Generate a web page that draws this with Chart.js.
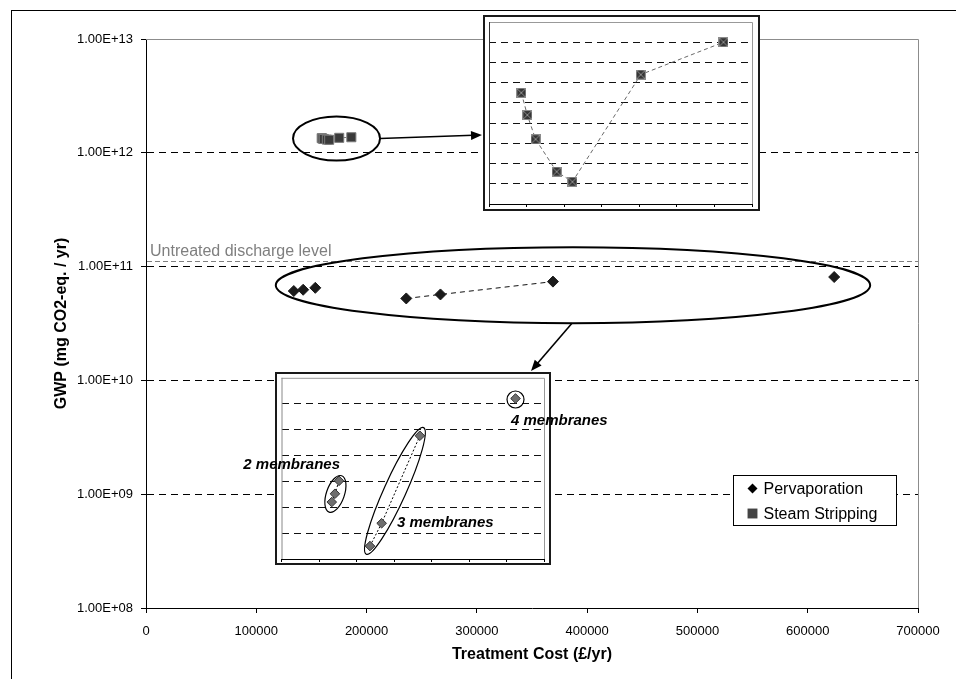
<!DOCTYPE html>
<html>
<head>
<meta charset="utf-8">
<script src="https://cdn.jsdelivr.net/npm/chart.js@4/dist/chart.umd.min.js"></script>
<style>
  body { margin: 0; background: #fff; }
  #wrap { position: relative; width: 956px; height: 679px; overflow: hidden; }
  canvas { position: absolute; }
  .lbl { position: absolute; font: italic bold 15px "Liberation Sans", Arial, sans-serif; color: #000; white-space: nowrap; line-height: 18px; }
</style>
</head>
<body>
<div id="wrap">
  <canvas id="main" width="956" height="679" style="left:0;top:0"></canvas>
  <canvas id="steamInset"></canvas>
  <canvas id="pervInset"></canvas>
</div>
<script>
// ---- data ----
const xTicks = [0, 100000, 200000, 300000, 400000, 500000, 600000, 700000];
const yTicks = [1e8, 1e9, 1e10, 1e11, 1e12, 1e13];

const membraneGroups = ['2 membranes', '3 membranes', '4 membranes'];
const perv2Cost = [134000, 142500, 153500];
const perv2Gwp = [6.10e10, 6.26e10, 6.51e10];
const perv3Cost = [236000, 267000, 369000];
const perv3Gwp = [5.25e10, 5.69e10, 7.38e10];
const perv4Cost = [624000];
const perv4Gwp = [8.10e10];

const steamCost = [159300, 160100, 161200, 164000, 166100, 175200, 186200];
const steamGwp = [1.345e12, 1.334e12, 1.322e12, 1.306e12, 1.301e12, 1.354e12, 1.370e12];

const untreatedGwp = 1.13e11;

// inset axis ranges (min, max, step)
const steamInsetCost = [155000, 190000, 5000];
const steamInsetGwp = [1.29e12, 1.38e12, 1e10];
const pervInsetCost = [0, 700000, 100000];
const pervInsetGwp = [5.0e10, 8.5e10, 5e9];

// ---- helpers ----
const FONT = '"Liberation Sans", Arial, sans-serif';
Chart.defaults.font.family = FONT;
Chart.defaults.color = '#000';

const pts = (xs, ys) => xs.map((x, i) => ({x: x, y: ys[i]}));

function fmtExp(v) {
  const parts = v.toExponential(2).split('e');
  const e = parseInt(parts[1], 10);
  return parts[0] + 'E' + (e < 0 ? '-' : '+') + String(Math.abs(e)).padStart(2, '0');
}

function xSquare(size) {
  const c = document.createElement('canvas');
  c.width = c.height = size;
  const g = c.getContext('2d');
  g.fillStyle = '#353535';
  g.fillRect(0, 0, size, size);
  g.strokeStyle = '#8c8c8c';
  g.lineWidth = 1;
  g.strokeRect(0.5, 0.5, size - 1, size - 1);
  g.beginPath();
  g.moveTo(1, 1); g.lineTo(size - 1, size - 1);
  g.moveTo(size - 1, 1); g.lineTo(1, size - 1);
  g.stroke();
  return c;
}

function arrow(ctx, x1, y1, x2, y2) {
  const a = Math.atan2(y2 - y1, x2 - x1), len = 11, w = 4.5;
  ctx.beginPath();
  ctx.moveTo(x1, y1);
  ctx.lineTo(x2 - len * 0.8 * Math.cos(a), y2 - len * 0.8 * Math.sin(a));
  ctx.stroke();
  ctx.beginPath();
  ctx.moveTo(x2, y2);
  ctx.lineTo(x2 - len * Math.cos(a) + w * Math.sin(a), y2 - len * Math.sin(a) - w * Math.cos(a));
  ctx.lineTo(x2 - len * Math.cos(a) - w * Math.sin(a), y2 - len * Math.sin(a) + w * Math.cos(a));
  ctx.closePath();
  ctx.fill();
}

// inset boxes on the page
const steamBox = {left: 483, top: 15, width: 277, height: 196, plot: {left: 5, top: 7, right: 269, bottom: 189}};
const pervBox = {left: 275, top: 372, width: 276, height: 193, plot: {left: 6.5, top: 5, right: 269, bottom: 187}};

// ---- main chart ----
const mainDecor = {
  id: 'mainDecor',
  beforeDraw(chart) {
    const ctx = chart.ctx;
    ctx.save();
    ctx.fillStyle = '#fff';
    ctx.fillRect(0, 0, chart.width, chart.height);
    ctx.restore();
  },
  beforeDatasetsDraw(chart) {
    const {ctx, chartArea: a} = chart;
    const y = chart.scales.y;
    ctx.save();
    ctx.strokeStyle = '#8c8c8c';
    ctx.lineWidth = 1;
    ctx.beginPath();
    ctx.moveTo(a.left, a.top + 0.5);
    ctx.lineTo(a.right + 0.5, a.top + 0.5);
    ctx.lineTo(a.right + 0.5, a.bottom);
    ctx.stroke();

    const uy = Math.round(y.getPixelForValue(untreatedGwp)) + 0.5;
    ctx.strokeStyle = '#7f7f7f';
    ctx.setLineDash([5, 3]);
    ctx.beginPath();
    ctx.moveTo(a.left + 1, uy);
    ctx.lineTo(a.right, uy);
    ctx.stroke();
    ctx.setLineDash([]);
    ctx.fillStyle = '#7f7f7f';
    ctx.font = '16px ' + FONT;
    ctx.textBaseline = 'alphabetic';
    ctx.fillText('Untreated discharge level', a.left + 4, uy - 6);
    ctx.restore();
  },
  afterDatasetsDraw(chart) {
    const ctx = chart.ctx;
    const {x, y} = chart.scales;
    ctx.save();
    ctx.strokeStyle = '#000';
    ctx.fillStyle = '#000';
    ctx.lineWidth = 2;

    // ellipse round the steam stripping points
    const sx = steamCost.map(v => x.getPixelForValue(v));
    const sy = steamGwp.map(v => y.getPixelForValue(v));
    const scx = (Math.min(...sx) + Math.max(...sx)) / 2;
    const scy = (Math.min(...sy) + Math.max(...sy)) / 2;
    const srx = 43.5, sry = 22;
    ctx.beginPath();
    ctx.ellipse(scx, scy, srx, sry, 0, 0, Math.PI * 2);
    ctx.stroke();

    // ellipse round all pervaporation points
    const allCost = perv2Cost.concat(perv3Cost, perv4Cost);
    const allGwp = perv2Gwp.concat(perv3Gwp, perv4Gwp);
    const px = allCost.map(v => x.getPixelForValue(v));
    const py = allGwp.map(v => y.getPixelForValue(v));
    const pcx = (Math.min(...px) + Math.max(...px)) / 2 + 9;
    const pcy = (Math.min(...py) + Math.max(...py)) / 2 - 2.5;
    const prx = (Math.max(...px) - Math.min(...px)) / 2 + 27, pry = 38;
    ctx.beginPath();
    ctx.ellipse(pcx, pcy, prx, pry, 0, 0, Math.PI * 2);
    ctx.stroke();

    // arrows to the insets
    ctx.lineWidth = 1.6;
    arrow(ctx, scx + srx, scy, steamBox.left - 1, scy - 3.5);
    arrow(ctx, pcx - 1, pcy + pry, pervBox.left + 256, pervBox.top - 1);

    // legend
    const lg = {left: 733.5, top: 475.5, width: 163, height: 50};
    ctx.lineWidth = 1;
    ctx.fillStyle = '#fff';
    ctx.fillRect(lg.left, lg.top, lg.width, lg.height);
    ctx.strokeRect(lg.left, lg.top, lg.width, lg.height);
    ctx.font = '16px ' + FONT;
    ctx.textBaseline = 'middle';
    const entries = chart.data.datasets.filter(d => d.inLegend);
    entries.forEach((d, i) => {
      const ry = lg.top + 13 + i * 25;
      ctx.fillStyle = d.legendColor;
      ctx.strokeStyle = d.legendColor;
      Chart.helpers.drawPoint(ctx, {pointStyle: d.pointStyle, rotation: 0, radius: d.legendRadius, borderWidth: 0}, lg.left + 19, ry);
      ctx.fillStyle = '#000';
      ctx.fillText(d.label, lg.left + 30, ry + 1);
    });

    // outer frame
    ctx.strokeStyle = '#000';
    ctx.lineWidth = 1;
    ctx.strokeRect(11.5, 10.5, 2000, 2000);
    ctx.restore();
  }
};

new Chart(document.getElementById('main'), {
  type: 'scatter',
  data: {
    datasets: [
      {label: 'Pervaporation', data: pts(perv2Cost, perv2Gwp), showLine: true, borderColor: '#111', borderWidth: 1, borderDash: [5, 4],
       pointStyle: 'rectRot', pointRadius: 5.5, pointBackgroundColor: '#1a1a1a', pointBorderColor: '#1a1a1a', pointBorderWidth: 1,
       inLegend: true, legendColor: '#000', legendRadius: 5},
      {label: 'Pervaporation', data: pts(perv3Cost, perv3Gwp), showLine: true, borderColor: '#111', borderWidth: 1, borderDash: [5, 4],
       pointStyle: 'rectRot', pointRadius: 5.5, pointBackgroundColor: '#1a1a1a', pointBorderColor: '#1a1a1a', pointBorderWidth: 1},
      {label: 'Pervaporation', data: pts(perv4Cost, perv4Gwp),
       pointStyle: 'rectRot', pointRadius: 5.5, pointBackgroundColor: '#1a1a1a', pointBorderColor: '#1a1a1a', pointBorderWidth: 1},
      {label: 'Steam Stripping', data: pts(steamCost, steamGwp), showLine: true, borderColor: '#777', borderWidth: 1, borderDash: [4, 3],
       pointStyle: 'rect', pointRadius: 6.4, pointBackgroundColor: '#3a3a3a', pointBorderColor: '#7a7a7a', pointBorderWidth: 1,
       inLegend: true, legendColor: '#444', legendRadius: 7}
    ]
  },
  options: {
    responsive: false,
    animation: false,
    devicePixelRatio: 1,
    layout: {padding: {left: 48, right: 38, top: 39, bottom: 0}},
    plugins: {legend: {display: false}, tooltip: {enabled: false}},
    scales: {
      x: {
        type: 'linear', min: 0, max: 700000,
        afterBuildTicks: s => { s.ticks = xTicks.map(v => ({value: v})); },
        afterFit: s => { s.height = 71; },
        ticks: {font: {size: 13}, color: '#000', padding: 11, maxRotation: 0, callback: v => String(v)},
        grid: {drawOnChartArea: false, drawTicks: true, tickLength: 5, color: '#000', tickColor: '#000'},
        border: {color: '#000', width: 1},
        title: {display: true, text: 'Treatment Cost (£/yr)', font: {size: 16, weight: 'bold'}, color: '#000', padding: {top: 4, bottom: 15}}
      },
      y: {
        type: 'logarithmic', min: 1e8, max: 1e13,
        afterBuildTicks: s => { s.ticks = yTicks.map(v => ({value: v})); },
        afterFit: s => { s.width = 98; },
        ticks: {font: {size: 13}, color: '#000', padding: 8, callback: v => fmtExp(v)},
        grid: {
          color: c => (c.tick && (c.tick.value === 1e13 || c.tick.value === 1e8)) ? 'rgba(0,0,0,0)' : '#000',
          tickColor: '#000', tickLength: 5, lineWidth: 1
        },
        border: {color: '#000', width: 1, dash: [7, 5]},
        title: {display: true, text: 'GWP (mg CO2-eq. / yr)', font: {size: 16, weight: 'bold'}, color: '#000', padding: {top: 4, bottom: 4}}
      }
    }
  },
  plugins: [mainDecor]
});

// ---- insets ----
function insetDecor(leftColor, extra) {
  return {
    id: 'insetDecor',
    beforeDraw(chart) {
      const ctx = chart.ctx;
      ctx.save();
      ctx.fillStyle = '#fff';
      ctx.fillRect(0, 0, chart.width, chart.height);
      ctx.restore();
    },
    beforeDatasetsDraw(chart) {
      const {ctx, chartArea: a} = chart;
      ctx.save();
      ctx.lineWidth = 1;
      ctx.strokeStyle = '#999';
      ctx.beginPath();
      ctx.moveTo(a.left, a.top + 0.5);
      ctx.lineTo(a.right + 0.5, a.top + 0.5);
      ctx.lineTo(a.right + 0.5, a.bottom);
      ctx.stroke();
      ctx.strokeStyle = leftColor;
      ctx.beginPath();
      ctx.moveTo(a.left + 0.5, a.top);
      ctx.lineTo(a.left + 0.5, a.bottom);
      ctx.stroke();
      ctx.restore();
    },
    afterDatasetsDraw(chart) {
      const ctx = chart.ctx;
      ctx.save();
      if (extra) extra(chart, ctx);
      ctx.lineWidth = 2;
      ctx.strokeStyle = '#1a1a1a';
      ctx.strokeRect(1, 1, chart.width - 2, chart.height - 2);
      ctx.restore();
    }
  };
}

function insetScales(box, xr, yr) {
  return {
    x: {
      type: 'linear', min: xr[0], max: xr[1],
      afterBuildTicks: s => { const t = []; for (let v = xr[0]; v <= xr[1] + 1e-6; v += xr[2]) t.push({value: v}); s.ticks = t; },
      afterFit: s => { s.height = 0; },
      ticks: {display: false},
      grid: {drawOnChartArea: false, drawTicks: true, tickLength: 3, tickColor: '#000'},
      border: {color: '#000', width: 1}
    },
    y: {
      type: 'linear', min: yr[0], max: yr[1],
      afterBuildTicks: s => { const t = []; for (let i = 0; yr[0] + i * yr[2] <= yr[1] * (1 + 1e-9); i++) t.push({value: yr[0] + i * yr[2]}); s.ticks = t; },
      afterFit: s => { s.width = 0; },
      ticks: {display: false},
      grid: {
        drawTicks: false,
        color: c => (c.index === 0 || (c.tick && Math.abs(c.tick.value - yr[1]) < yr[2] / 10)) ? 'rgba(0,0,0,0)' : '#111'
      },
      border: {display: false, dash: [7, 5]}
    }
  };
}

function placeCanvas(id, box) {
  const c = document.getElementById(id);
  c.width = box.width;
  c.height = box.height;
  c.style.left = box.left + 'px';
  c.style.top = box.top + 'px';
  return c;
}

function insetLayout(box) {
  return {padding: {left: box.plot.left, top: box.plot.top, right: box.width - box.plot.right, bottom: box.height - box.plot.bottom}};
}

new Chart(placeCanvas('steamInset', steamBox), {
  type: 'scatter',
  data: {
    datasets: [
      {label: 'Steam Stripping', data: pts(steamCost, steamGwp), showLine: true, borderColor: '#6a6a6a', borderWidth: 1, borderDash: [4, 3],
       pointStyle: xSquare(10), pointRadius: 5}
    ]
  },
  options: {
    responsive: false, animation: false, devicePixelRatio: 1,
    layout: insetLayout(steamBox),
    plugins: {legend: {display: false}, tooltip: {enabled: false}},
    scales: insetScales(steamBox, steamInsetCost, steamInsetGwp)
  },
  plugins: [insetDecor('#333')]
});

const groupEllipse = [
  {padMajor: 8, minor: 9, shift: 2.5},
  {padMajor: 9, minor: 11, shift: 0},
  {padMajor: 8.5, minor: 8.5, shift: 1}
];

function drawGroupEllipses(chart, ctx) {
  const {x, y} = chart.scales;
  const groups = [[perv2Cost, perv2Gwp], [perv3Cost, perv3Gwp], [perv4Cost, perv4Gwp]];
  ctx.strokeStyle = '#000';
  ctx.lineWidth = 1.2;
  groups.forEach((g, i) => {
    const p0 = {x: x.getPixelForValue(g[0][0]), y: y.getPixelForValue(g[1][0])};
    const n = g[0].length - 1;
    const p1 = {x: x.getPixelForValue(g[0][n]), y: y.getPixelForValue(g[1][n])};
    const cx = (p0.x + p1.x) / 2, cy = (p0.y + p1.y) / 2;
    const half = Math.hypot(p1.x - p0.x, p1.y - p0.y) / 2;
    const ang = n > 0 ? Math.atan2(p1.y - p0.y, p1.x - p0.x) : 0;
    const e = groupEllipse[i];
    ctx.beginPath();
    ctx.ellipse(cx, cy + e.shift, half + e.padMajor, e.minor, ang, 0, Math.PI * 2);
    ctx.stroke();
  });
}

const pervPoint = {pointStyle: 'rectRot', pointRadius: 4.8, pointBackgroundColor: '#6e6e6e', pointBorderColor: '#333', pointBorderWidth: 1};

new Chart(placeCanvas('pervInset', pervBox), {
  type: 'scatter',
  data: {
    datasets: [
      Object.assign({label: membraneGroups[0], data: pts(perv2Cost, perv2Gwp), showLine: true, borderColor: '#000', borderWidth: 1, borderDash: [2, 2]}, pervPoint),
      Object.assign({label: membraneGroups[1], data: pts(perv3Cost, perv3Gwp), showLine: true, borderColor: '#000', borderWidth: 1, borderDash: [2, 2]}, pervPoint),
      Object.assign({label: membraneGroups[2], data: pts(perv4Cost, perv4Gwp)}, pervPoint)
    ]
  },
  options: {
    responsive: false, animation: false, devicePixelRatio: 1,
    layout: insetLayout(pervBox),
    plugins: {legend: {display: false}, tooltip: {enabled: false}},
    scales: insetScales(pervBox, pervInsetCost, pervInsetGwp)
  },
  plugins: [insetDecor('#888', drawGroupEllipses)]
});

// group labels (page positions)
const labelSpots = [
  {right: 956 - 340, top: 455},
  {left: 397, top: 513},
  {left: 511, top: 411}
];
const wrap = document.getElementById('wrap');
membraneGroups.forEach((t, i) => {
  const d = document.createElement('div');
  d.className = 'lbl';
  d.textContent = t;
  const s = labelSpots[i];
  if (s.left !== undefined) d.style.left = s.left + 'px';
  if (s.right !== undefined) d.style.right = s.right + 'px';
  d.style.top = s.top + 'px';
  wrap.appendChild(d);
});
</script>
</body>
</html>
